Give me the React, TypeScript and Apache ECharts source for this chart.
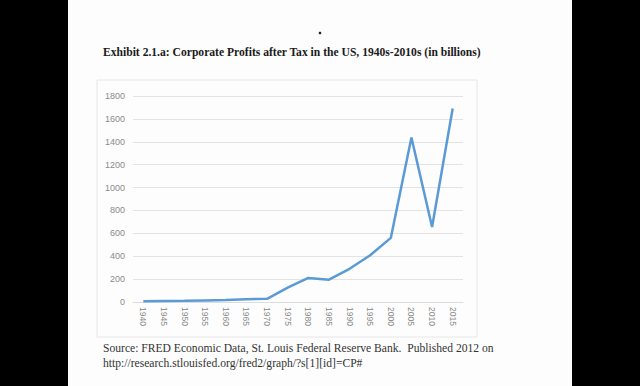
import React, { useEffect, useRef } from "react";
import * as echarts from "echarts";

const years = ["1940","1945","1950","1955","1960","1965","1970","1975","1980","1985","1990","1995","2000","2005","2010","2015"];
const profits = [6, 8, 10, 14, 18, 24, 28, 125, 210, 195, 290, 408, 560, 1437, 656, 1691];
const yTicks = [0, 200, 400, 600, 800, 1000, 1200, 1400, 1600, 1800];

const titleText = "Exhibit 2.1.a: Corporate Profits after Tax in the US, 1940s-2010s (in billions)";
const sourceLine1 = "Source: FRED Economic Data, St. Louis Federal Reserve Bank.  Published 2012 on";
const sourceLine2 = "http://research.stlouisfed.org/fred2/graph/?s[1][id]=CP#";

export default function App() {
  const ref = useRef<HTMLDivElement>(null);
  useEffect(() => {
    if (!ref.current) return;
    const chart = echarts.init(ref.current, null, { renderer: "svg" });
    chart.setOption({
      animation: false,
      backgroundColor: "#fdfdfd",
      grid: { left: 133, right: 177, top: 96, bottom: 84, containLabel: false },
      xAxis: {
        type: "category",
        data: years,
        boundaryGap: true,
        axisLine: { show: true, lineStyle: { color: "#dcdcdc", width: 1 } },
        axisTick: { show: false },
        axisLabel: { rotate: -90, color: "#8a8a8a", fontSize: 8.5, fontFamily: "Liberation Sans", margin: 5, interval: 0 },
      },
      yAxis: {
        type: "value",
        min: yTicks[0],
        max: yTicks[yTicks.length - 1],
        interval: 200,
        axisLine: { show: false },
        axisTick: { show: false },
        splitLine: { lineStyle: { color: "#e3e3e3", width: 1 } },
        axisLabel: { color: "#8a8a8a", fontSize: 9, fontFamily: "Liberation Sans", margin: 8, formatter: (v: number) => String(v) },
      },
      series: [
        {
          type: "line",
          data: profits,
          symbol: "none",
          lineStyle: { color: "#5b9bd5", width: 2.5 },
        },
      ],
      graphic: [
        { type: "rect", shape: { x: 0, y: 0, width: 68, height: 386 }, style: { fill: "#000" } },
        { type: "rect", shape: { x: 572, y: 0, width: 68, height: 386 }, style: { fill: "#000" } },
        { type: "rect", shape: { x: 97, y: 80, width: 380, height: 257 }, style: { fill: "none", stroke: "#e6e6e6", lineWidth: 1 }, z: -1 },
        { type: "circle", shape: { cx: 320, cy: 33, r: 1.3 }, style: { fill: "#222" } },
        {
          type: "text",
          x: 103,
          y: 52,
          style: { text: titleText, fill: "#1a1a1a", font: "bold 11.6px 'Liberation Serif'", textVerticalAlign: "middle" },
        },
        {
          type: "text",
          x: 103,
          y: 348,
          style: { text: sourceLine1, fill: "#333", font: "11.6px 'Liberation Serif'", textVerticalAlign: "middle" },
        },
        {
          type: "text",
          x: 103,
          y: 363,
          style: { text: sourceLine2, fill: "#333", font: "11.6px 'Liberation Serif'", textVerticalAlign: "middle" },
        },
      ],
    });
    return () => chart.dispose();
  }, []);
  return <div ref={ref} style={{ position: "fixed", left: 0, top: 0, width: 640, height: 386 }} />;
}
